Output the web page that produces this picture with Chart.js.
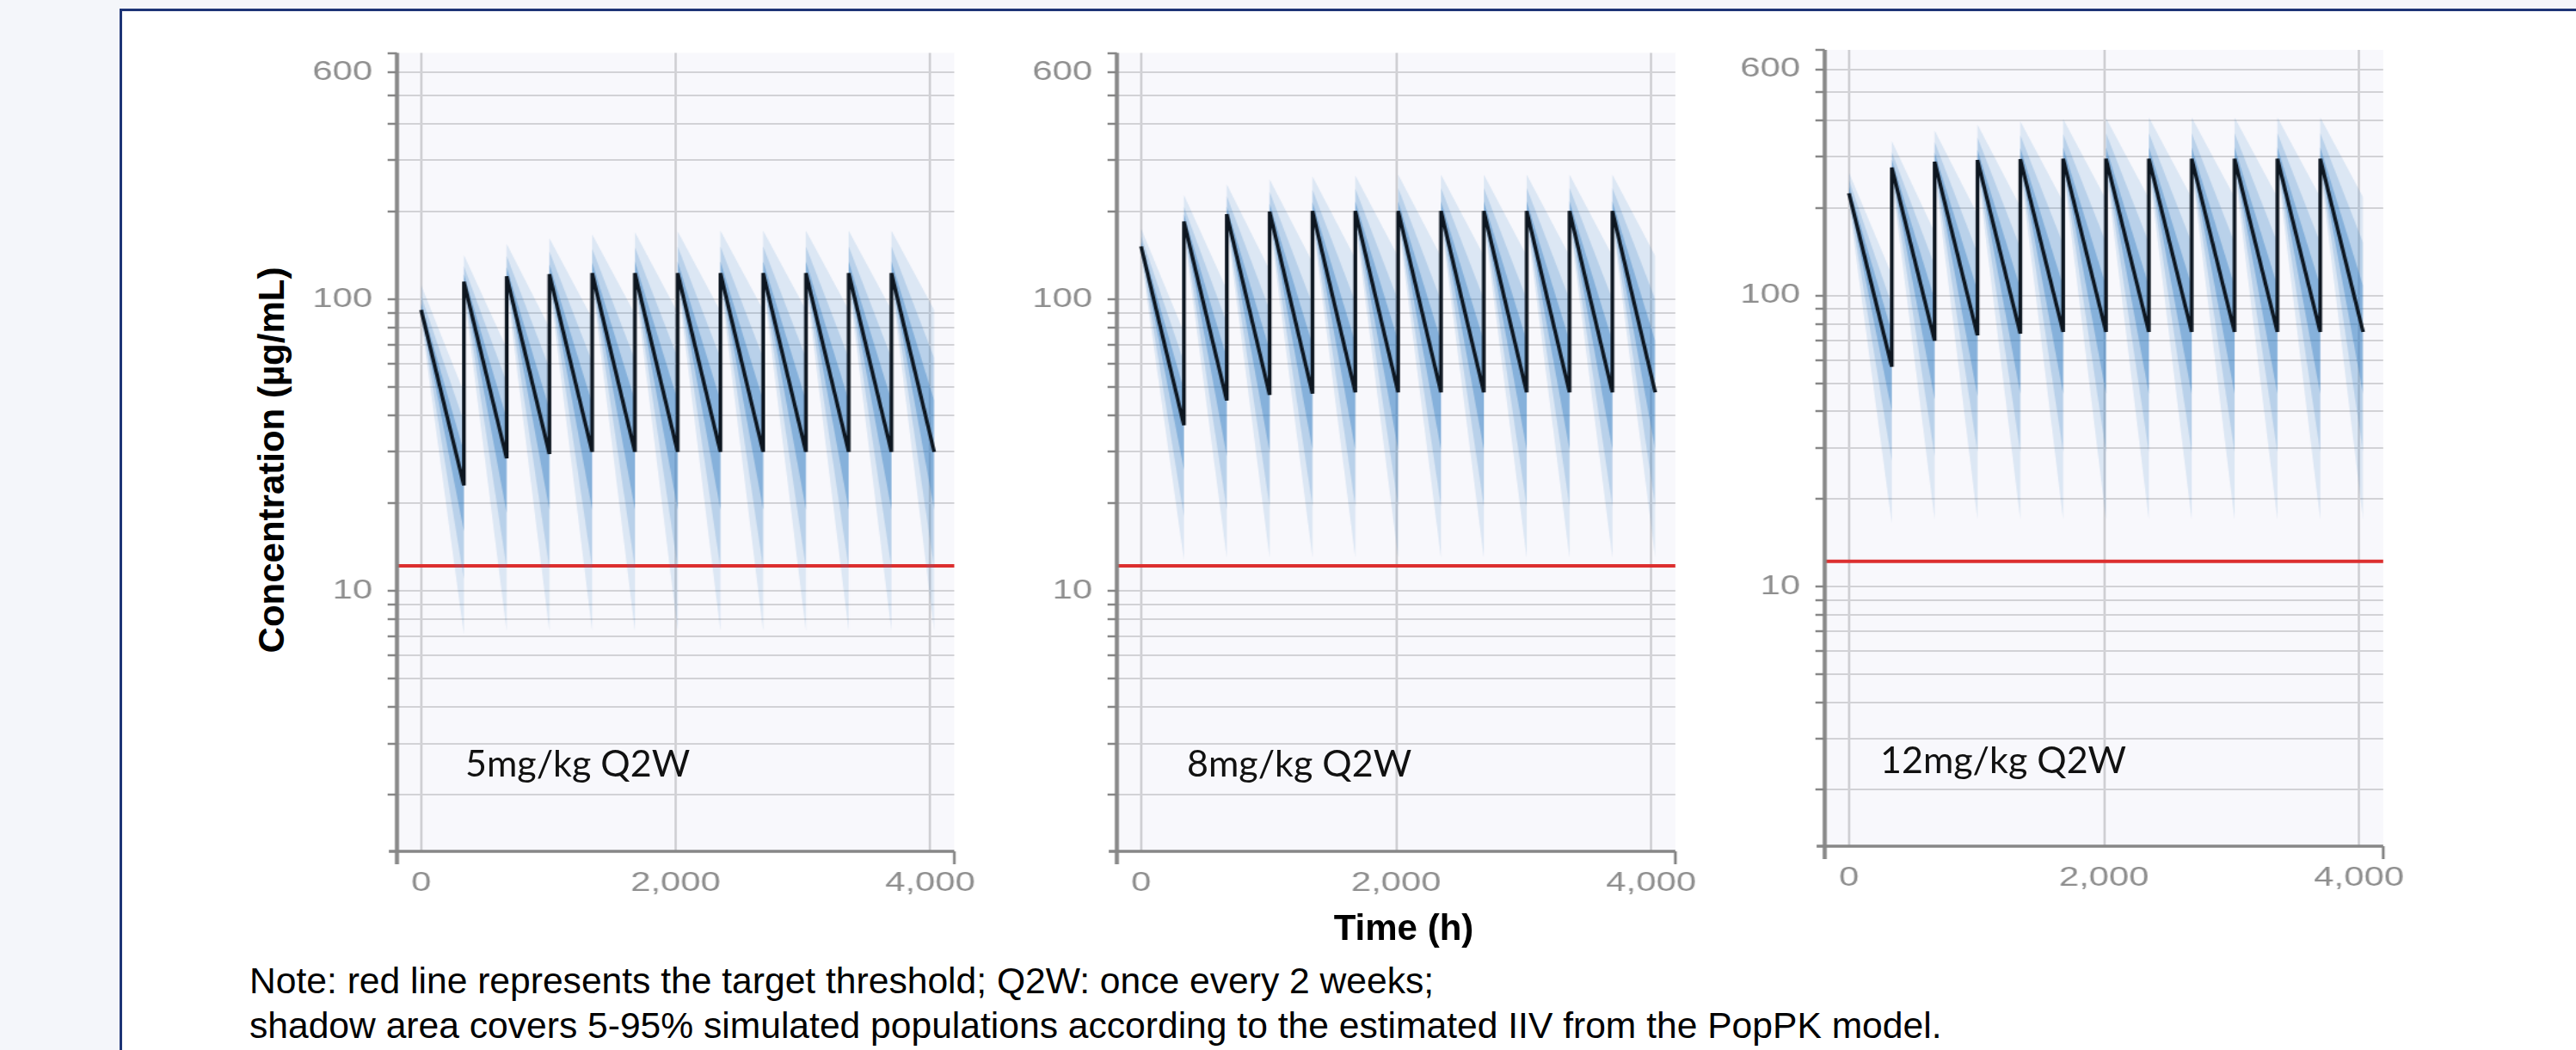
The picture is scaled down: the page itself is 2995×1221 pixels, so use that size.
<!DOCTYPE html>
<html>
<head>
<meta charset="utf-8">
<script src="https://cdn.jsdelivr.net/npm/chart.js@4.4.1/dist/chart.umd.min.js"></script>
<style>
html,body{margin:0;padding:0;}
body{width:2995px;height:1221px;position:relative;overflow:hidden;background:#ffffff;font-family:"Liberation Sans",Arial,sans-serif;}
.bgL{position:absolute;left:0;top:0;width:139px;height:1221px;background:#f4f6fa;}
.bgT{position:absolute;left:0;top:0;width:2995px;height:10px;background:#f4f6fa;}
.frame{position:absolute;left:139px;top:10px;width:3000px;height:1300px;border-left:3px solid #1d3476;border-top:3px solid #1d3476;}
.panel{position:absolute;transform-origin:0 0;}
.panel canvas{display:block;}
.ann{position:absolute;font-family:Lato,"Open Sans",sans-serif;font-size:43px;line-height:43px;color:#111;white-space:nowrap;}
.note{position:absolute;left:290px;font-size:42.6px;line-height:42.6px;color:#000;white-space:nowrap;}
.ytitle{position:absolute;left:316px;top:535px;transform:translate(-50%,-50%) rotate(-90deg);font-weight:bold;font-size:42px;line-height:42px;color:#000;white-space:nowrap;}
.xtitle{position:absolute;left:1432px;width:400px;top:1058px;text-align:center;font-weight:bold;font-size:42px;line-height:42px;color:#000;white-space:nowrap;}
</style>
</head>
<body>
<div class="bgL"></div>
<div class="bgT"></div>
<div class="frame"></div>
<div class="panel" id="p0"><canvas id="c0"></canvas></div>
<div class="panel" id="p1"><canvas id="c1"></canvas></div>
<div class="panel" id="p2"><canvas id="c2"></canvas></div>
<div class="ytitle">Concentration (µg/mL)</div>
<div class="xtitle">Time (h)</div>
<div class="note" style="top:1119px">Note: red line represents the target threshold; Q2W: once every 2 weeks;</div>
<div class="note" style="top:1171px">shadow area covers 5-95% simulated populations according to the estimated IIV from the PopPK model.</div>
<script>
// ---------------- data ----------------
const doseTimes   = [0, 336, 672, 1008, 1344, 1680, 2016, 2352, 2688, 3024, 3360, 3696];
const troughTimes = [336, 672, 1008, 1344, 1680, 2016, 2352, 2688, 3024, 3360, 3696, 4032];
const xTickValues = [0, 2000, 4000];
const yTickValues = [2,3,4,5,6,7,8,9,10,20,30,40,50,60,70,80,90,100,200,300,400,500,600,700];
const yLabelledValues = [10, 100, 600];
const panelTitles = ['5mg/kg Q2W', '8mg/kg Q2W', '12mg/kg Q2W'];
const thresholdValue = 12.2;

// 5 mg/kg
const q95Peak5   = [112, 142, 155, 162, 167, 170, 171, 172, 172, 172, 172, 172];
const q95Trough5 = [48, 68, 80, 86, 89, 90, 91, 92, 92, 92, 92, 92];
const q85Peak5   = [103, 130, 141, 146, 149, 151, 152, 152, 152, 152, 152, 152];
const q85Trough5 = [38, 52, 58, 61, 62, 63, 63, 63, 63, 63, 63, 63];
const q70Peak5   = [97, 122, 129, 132, 134, 135, 135, 135, 135, 135, 135, 135];
const q70Trough5 = [30, 39, 42, 44, 45, 45, 45, 45, 45, 45, 45, 45];
const q50Peak5   = [92, 115, 120, 122, 123, 123, 123, 123, 123, 123, 123, 123];
const q50Trough5 = [23, 28.5, 29.5, 30, 30, 30, 30, 30, 30, 30, 30, 30];
const q30Peak5   = [90, 113, 118, 120, 121, 121, 121, 121, 121, 121, 121, 121];
const q30Trough5 = [16, 18.5, 19, 19, 19, 19, 19, 19, 19, 19, 19, 19];
const q15Peak5   = [88, 110, 115, 117, 118, 118, 118, 118, 118, 118, 118, 118];
const q15Trough5 = [11, 12, 12, 12, 12, 12, 12, 12, 12, 12, 12, 12];
const q05Peak5   = [85, 106, 111, 113, 114, 114, 114, 114, 114, 114, 114, 114];
const q05Trough5 = [7.1, 7.3, 7.3, 7.3, 7.3, 7.3, 7.3, 7.3, 7.3, 7.3, 7.3, 7.3];

// 8 mg/kg
const q95Peak8   = [175, 228, 248, 258, 264, 266, 268, 268, 268, 268, 268, 268];
const q95Trough8 = [77, 108, 126, 134, 138, 140, 140, 141, 141, 141, 141, 141];
const q85Peak8   = [165, 208, 226, 234, 238, 240, 241, 241, 241, 241, 241, 241];
const q85Trough8 = [61, 83, 92, 96, 98, 99, 99, 100, 100, 100, 100, 100];
const q70Peak8   = [158, 196, 208, 213, 216, 217, 217, 217, 217, 217, 217, 217];
const q70Trough8 = [49, 63, 67, 70, 71, 72, 72, 72, 72, 72, 72, 72];
const q50Peak8   = [152, 185, 196, 200, 201, 201, 201, 201, 201, 201, 201, 201];
const q50Trough8 = [37, 45, 47, 47.5, 48, 48, 48, 48, 48, 48, 48, 48];
const q30Peak8   = [149, 181, 192, 196, 197, 197, 197, 197, 197, 197, 197, 197];
const q30Trough8 = [26, 29, 30, 30.5, 30.5, 30.5, 30.5, 30.5, 30.5, 30.5, 30.5, 30.5];
const q15Peak8   = [145, 176, 187, 191, 192, 192, 192, 192, 192, 192, 192, 192];
const q15Trough8 = [18, 19, 19.5, 19.5, 19.5, 19.5, 19.5, 19.5, 19.5, 19.5, 19.5, 19.5];
const q05Peak8   = [140, 170, 181, 185, 186, 186, 186, 186, 186, 186, 186, 186];
const q05Trough8 = [12.8, 13, 13, 13, 13, 13, 13, 13, 13, 13, 13, 13];

// 12 mg/kg
const q95Peak12   = [265, 340, 370, 388, 398, 405, 408, 410, 410, 410, 410, 410];
const q95Trough12 = [118, 165, 190, 202, 210, 214, 216, 217, 218, 218, 218, 218];
const q85Peak12   = [250, 312, 338, 350, 356, 360, 362, 362, 362, 362, 362, 362];
const q85Trough12 = [93, 127, 140, 146, 150, 152, 152, 152, 152, 152, 152, 152];
const q70Peak12   = [238, 294, 311, 318, 322, 324, 324, 324, 324, 324, 324, 324];
const q70Trough12 = [75, 97, 104, 106, 108, 108, 108, 108, 108, 108, 108, 108];
const q50Peak12   = [225, 276, 289, 293, 295, 296, 296, 296, 296, 296, 296, 296];
const q50Trough12 = [57, 70, 73, 74, 75, 75, 75, 75, 75, 75, 75, 75];
const q30Peak12   = [220, 270, 283, 287, 289, 290, 290, 290, 290, 290, 290, 290];
const q30Trough12 = [40, 44, 45, 46, 46, 46, 46, 46, 46, 46, 46, 46];
const q15Peak12   = [214, 263, 276, 280, 282, 283, 283, 283, 283, 283, 283, 283];
const q15Trough12 = [27, 28, 29, 29, 29, 29, 29, 29, 29, 29, 29, 29];
const q05Peak12   = [207, 254, 266, 270, 272, 273, 273, 273, 273, 273, 273, 273];
const q05Trough12 = [16.5, 17, 17, 17, 17, 17, 17, 17, 17, 17, 17, 17];

// ---------------- layout / style ----------------
const X_MIN = -190, X_MAX = 4190, Y_MIN = 1.28, Y_MAX = 700;
const STRETCH = 1.35;
const Y_AXIS_W = 90, PAD_R = 40, CANVAS_H = 1040, X_AXIS_H = 70;
const panelBoxes = [
  {axisX: 461,  rightX: 1109, top: 20, padTop: 41.5, annLeft: 541,  annTop: 865},
  {axisX: 1298, rightX: 1947, top: 20, padTop: 41.5, annLeft: 1380, annTop: 865},
  {axisX: 2121, rightX: 2771, top: 14, padTop: 44,   annLeft: 2186, annTop: 861}
];
const panelSeries = [
  [[q95Peak5,q95Trough5],[q85Peak5,q85Trough5],[q70Peak5,q70Trough5],[q50Peak5,q50Trough5],[q30Peak5,q30Trough5],[q15Peak5,q15Trough5],[q05Peak5,q05Trough5]],
  [[q95Peak8,q95Trough8],[q85Peak8,q85Trough8],[q70Peak8,q70Trough8],[q50Peak8,q50Trough8],[q30Peak8,q30Trough8],[q15Peak8,q15Trough8],[q05Peak8,q05Trough8]],
  [[q95Peak12,q95Trough12],[q85Peak12,q85Trough12],[q70Peak12,q70Trough12],[q50Peak12,q50Trough12],[q30Peak12,q30Trough12],[q15Peak12,q15Trough12],[q05Peak12,q05Trough12]]
];
const bandAlphas = [0.14, 0.2, 0.38];
const BAND_RGB = '50,125,195';

function sawtooth(peaks, troughs) {
  const pts = [];
  for (let i = 0; i < doseTimes.length; i++) {
    pts.push({x: doseTimes[i], y: peaks[i]});
    pts.push({x: troughTimes[i], y: troughs[i]});
  }
  return pts;
}

Chart.defaults.font.family = "'Liberation Sans', Arial, sans-serif";

const axesPlugin = {
  id: 'axesPlugin',
  beforeDraw(chart) {
    const {ctx, chartArea: a} = chart;
    ctx.save();
    ctx.fillStyle = '#f8f8fc';
    ctx.fillRect(a.left, a.top, a.right - a.left, a.bottom - a.top);
    ctx.restore();
  },
  afterDraw(chart) {
    const {ctx, chartArea: a} = chart;
    ctx.save();
    ctx.strokeStyle = '#878787';
    ctx.lineCap = 'butt';
    ctx.lineWidth = 3.4;
    ctx.beginPath(); ctx.moveTo(a.left, a.top); ctx.lineTo(a.left, a.bottom + 15); ctx.stroke();
    ctx.lineWidth = 3.5;
    ctx.beginPath(); ctx.moveTo(a.left - 7, a.bottom); ctx.lineTo(a.right, a.bottom); ctx.stroke();
    ctx.lineWidth = 2.4;
    ctx.beginPath(); ctx.moveTo(a.right, a.bottom); ctx.lineTo(a.right, a.bottom + 15); ctx.stroke();
    ctx.restore();
  }
};

panelBoxes.forEach((box, p) => {
  const areaW = Math.round((box.rightX - box.axisX) / STRETCH);
  const div = document.getElementById('p' + p);
  div.style.left = (box.axisX - Y_AXIS_W * STRETCH) + 'px';
  div.style.top = box.top + 'px';
  div.style.width = (Y_AXIS_W + areaW + PAD_R) + 'px';
  div.style.height = CANVAS_H + 'px';
  div.style.transform = 'scaleX(' + STRETCH + ')';

  const ann = document.createElement('div');
  ann.className = 'ann';
  ann.style.left = box.annLeft + 'px';
  ann.style.top = box.annTop + 'px';
  ann.textContent = panelTitles[p];
  document.body.appendChild(ann);

  const series = panelSeries[p];
  const datasets = [];
  series.forEach((s, i) => {
    const ds = {
      data: sawtooth(s[0], s[1]),
      borderWidth: 0,
      borderColor: 'rgba(0,0,0,0)',
      pointRadius: 0,
      tension: 0,
      fill: false
    };
    if (i < 3) {
      ds.fill = 6 - i;
      ds.backgroundColor = 'rgba(' + BAND_RGB + ',' + bandAlphas[i] + ')';
    }
    if (i === 3) {
      ds.borderWidth = 3.2;
      ds.borderColor = '#0d1620';
      ds.order = -1;
    }
    datasets.push(ds);
  });
  datasets.push({
    data: [{x: X_MIN, y: thresholdValue}, {x: X_MAX, y: thresholdValue}],
    borderColor: '#dc2f2f', borderWidth: 4, pointRadius: 0, fill: false
  });

  new Chart(document.getElementById('c' + p), {
    type: 'line',
    data: {datasets},
    plugins: [axesPlugin],
    options: {
      responsive: true,
      maintainAspectRatio: false,
      animation: false,
      events: [],
      layout: {padding: {top: box.padTop, right: PAD_R, bottom: 0, left: 0}},
      plugins: {legend: {display: false}, tooltip: {enabled: false}},
      scales: {
        x: {
          type: 'linear', min: X_MIN, max: X_MAX,
          afterBuildTicks: (sc) => { sc.ticks = xTickValues.map(v => ({value: v})); },
          afterFit: (sc) => { sc.height = X_AXIS_H; },
          border: {display: false},
          grid: {color: '#cfcfd3', lineWidth: 2, drawTicks: false},
          ticks: {
            autoSkip: false, maxRotation: 0, padding: 19, color: '#8e8e8e',
            font: {size: 31},
            callback: (v) => Number(v).toLocaleString('en-US')
          }
        },
        y: {
          type: 'logarithmic', min: Y_MIN, max: Y_MAX,
          afterBuildTicks: (sc) => { sc.ticks = yTickValues.map(v => ({value: v})); },
          afterFit: (sc) => { sc.width = Y_AXIS_W; },
          border: {display: false},
          grid: {
            color: (c) => (c.tick && c.tick.value === 700) ? 'rgba(0,0,0,0)' : '#d2d2d6',
            lineWidth: 2, drawTicks: true, tickLength: 8, tickColor: '#878787', tickWidth: 2.5
          },
          ticks: {
            autoSkip: false, padding: 13, color: '#8e8e8e',
            font: {size: 31},
            callback: (v) => yLabelledValues.includes(v) ? String(v) : ''
          }
        }
      }
    }
  });
});
</script>
</body>
</html>
